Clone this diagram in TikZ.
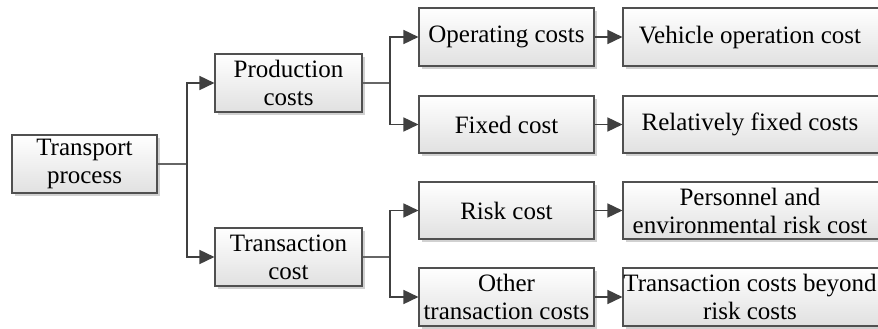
\documentclass[tikz,border=0pt]{standalone}
\usepackage{fontspec}
\setmainfont{Liberation Serif}
\usetikzlibrary{arrows.meta,shadows}
\definecolor{linegray}{HTML}{404040}
\definecolor{boxline}{HTML}{505050}
\tikzset{
  costbox/.style={draw=boxline, line width=1.1pt, rectangle, inner sep=0pt,
    top color=white, bottom color=black!12, align=center,
    font=\fontsize{25}{28}\selectfont,
    drop shadow={shadow xshift=3pt, shadow yshift=-3pt, fill=black!18, opacity=1}},
  arr/.style={draw=linegray, line width=1.6pt, -{Triangle[length=15pt,width=14pt]}},
  plain/.style={draw=linegray!80, line width=1.2pt}
}
\begin{document}
\begin{tikzpicture}[x=1pt,y=-1pt]
\useasboundingbox (0,0) rectangle (878,329);
\clip (0,0) rectangle (878,329);
% level 0
\node[costbox, minimum width=145pt, minimum height=58pt] (tp) at (84.5,164) {Transport\\process};
% level 1
\node[costbox, minimum width=147pt, minimum height=58pt] (pc) at (288.5,83) {Production\\costs};
\node[costbox, minimum width=147pt, minimum height=58pt] (tc) at (288.5,257) {Transaction\\cost};
% level 2
\node[costbox, minimum width=175pt, minimum height=58pt] (oc) at (506.5,37) {Operating costs};
\node[costbox, minimum width=175pt, minimum height=57pt] (fc) at (506.5,124.5) {Fixed cost};
\node[costbox, minimum width=175pt, minimum height=57pt] (rc) at (506.5,210.5) {Risk cost};
\node[costbox, minimum width=175pt, minimum height=58pt] (ot) at (506.5,297) {Other\\transaction costs};
% level 3 (cut off at the right edge)
\node[costbox, minimum width=262pt, minimum height=58pt] (vo) at (754,37) {};
\node[costbox, minimum width=262pt, minimum height=57pt] (rf) at (754,124.5) {};
\node[costbox, minimum width=262pt, minimum height=57pt] (pe) at (754,210.5) {};
\node[costbox, minimum width=262pt, minimum height=58pt] (tb) at (754,297) {};
\node[align=center, font=\fontsize{25}{28}\selectfont] (vot) at (750,37) {Vehicle operation cost};
\node[align=center, font=\fontsize{25}{28}\selectfont] (rft) at (750,124.5) {Relatively fixed costs};
\node[align=center, font=\fontsize{25}{28}\selectfont] (pet) at (750,210.5) {Personnel and\\environmental risk cost};
\node[align=center, font=\fontsize{25}{28}\selectfont] (tbt) at (750,297) {Transaction costs beyond\\risk costs};
% junctions
\coordinate (j1) at (187,164);
\coordinate (j2) at (390,83);
\coordinate (j3) at (390,257);
% connectors
\draw[plain] (tp.east) -- (j1);
\draw[arr] (j1) |- (pc.west);
\draw[arr] (j1) |- (tc.west);
\draw[plain] (pc.east) -- (j2);
\draw[arr] (j2) |- (oc.west);
\draw[arr] (j2) |- (fc.west);
\draw[plain] (tc.east) -- (j3);
\draw[arr] (j3) |- (rc.west);
\draw[arr] (j3) |- (ot.west);
\draw[arr] (oc.east) -- (vo.west);
\draw[arr] (fc.east) -- (rf.west);
\draw[arr] (rc.east) -- (pe.west);
\draw[arr] (ot.east) -- (tb.west);
\end{tikzpicture}
\end{document}
